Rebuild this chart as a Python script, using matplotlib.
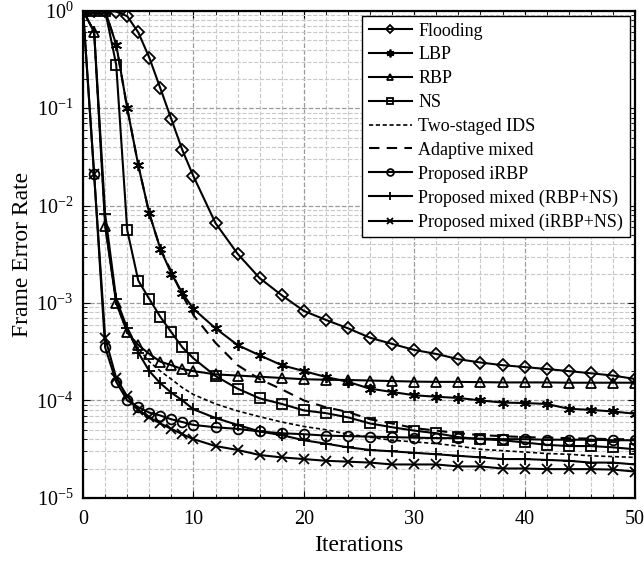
import numpy as np
import matplotlib
matplotlib.use('Agg')
import matplotlib.pyplot as plt
from matplotlib.ticker import LogLocator, MultipleLocator, NullFormatter

plt.rcParams['font.family'] = ['Liberation Serif', 'DejaVu Serif']
plt.rcParams['mathtext.fontset'] = 'stix'
plt.rcParams['axes.unicode_minus'] = False

# iteraciones con marcador: 0..10 y luego cada 2 hasta 50
iters = list(range(0, 11)) + list(range(12, 51, 2))

flooding = [1, 1, 1, 0.98, 0.88, 0.6, 0.33, 0.16, 0.077, 0.037, 0.02,
            6.6e-3, 3.2e-3, 1.8e-3, 1.2e-3, 8.3e-4, 6.7e-4, 5.5e-4, 4.4e-4, 3.8e-4, 3.3e-4,
            3.0e-4, 2.65e-4, 2.45e-4, 2.3e-4, 2.2e-4, 2.1e-4, 2.0e-4, 1.9e-4, 1.8e-4, 1.66e-4]
lbp = [1, 1, 1, 0.45, 0.10, 0.026, 8.3e-3, 3.6e-3, 2.0e-3, 1.26e-3, 8.7e-4,
       5.5e-4, 3.7e-4, 2.9e-4, 2.3e-4, 2.0e-4, 1.74e-4, 1.55e-4, 1.32e-4, 1.22e-4, 1.13e-4,
       1.09e-4, 1.06e-4, 1.0e-4, 9.5e-5, 9.4e-5, 9.2e-5, 8.2e-5, 8.0e-5, 7.7e-5, 7.3e-5]
rbp = [1, 0.61, 6.2e-3, 1.0e-3, 5.0e-4, 3.7e-4, 3.0e-4, 2.5e-4, 2.3e-4, 2.1e-4, 2.0e-4,
       1.85e-4, 1.8e-4, 1.75e-4, 1.7e-4, 1.65e-4, 1.63e-4, 1.62e-4, 1.6e-4, 1.58e-4, 1.56e-4,
       1.55e-4, 1.55e-4, 1.54e-4, 1.53e-4, 1.53e-4, 1.53e-4, 1.52e-4, 1.52e-4, 1.52e-4, 1.52e-4]
ns = [1, 1, 1, 0.28, 5.6e-3, 1.7e-3, 1.1e-3, 7.2e-4, 5.0e-4, 3.5e-4, 2.7e-4,
      1.78e-4, 1.32e-4, 1.05e-4, 9.2e-5, 7.9e-5, 7.4e-5, 6.7e-5, 5.8e-5, 5.3e-5, 4.9e-5,
      4.6e-5, 4.2e-5, 4.0e-5, 3.9e-5, 3.7e-5, 3.5e-5, 3.4e-5, 3.4e-5, 3.3e-5, 3.15e-5]
ids = [1, 0.61, 6.2e-3, 1.0e-3, 5.0e-4, 3.4e-4, 2.5e-4, 2.0e-4, 1.65e-4, 1.35e-4, 1.15e-4,
       9.2e-5, 7.8e-5, 6.8e-5, 6.0e-5, 5.4e-5, 5.0e-5, 4.5e-5, 4.2e-5, 3.9e-5, 3.75e-5,
       3.6e-5, 3.4e-5, 3.15e-5, 3.05e-5, 2.95e-5, 2.85e-5, 2.8e-5, 2.7e-5, 2.65e-5, 2.6e-5]
adaptive = [1, 1, 1, 0.45, 0.10, 0.026, 8.3e-3, 3.6e-3, 2.1e-3, 1.2e-3, 7.5e-4,
            3.9e-4, 2.3e-4, 1.65e-4, 1.3e-4, 1.0e-4, 8.5e-5, 7.6e-5, 6.4e-5, 5.8e-5, 5.2e-5,
            4.9e-5, 4.6e-5, 4.4e-5, 4.3e-5, 4.2e-5, 4.15e-5, 4.1e-5, 4.05e-5, 4.0e-5, 4.0e-5]
irbp = [1, 0.021, 3.5e-4, 1.55e-4, 1.0e-4, 8.5e-5, 7.5e-5, 7.0e-5, 6.4e-5, 6.0e-5, 5.6e-5,
        5.3e-5, 5.1e-5, 4.8e-5, 4.6e-5, 4.5e-5, 4.35e-5, 4.3e-5, 4.25e-5, 4.2e-5, 4.15e-5,
        4.1e-5, 4.1e-5, 4.05e-5, 4.0e-5, 4.0e-5, 3.95e-5, 3.95e-5, 3.95e-5, 3.9e-5, 3.9e-5]
mixed_rbp_ns = [1, 0.61, 8.2e-3, 1.1e-3, 5.5e-4, 3.1e-4, 2.0e-4, 1.5e-4, 1.2e-4, 1.0e-4, 8.1e-5,
                6.6e-5, 5.6e-5, 4.8e-5, 4.4e-5, 3.9e-5, 3.6e-5, 3.3e-5, 3.1e-5, 3.0e-5, 2.9e-5,
                2.8e-5, 2.7e-5, 2.6e-5, 2.5e-5, 2.5e-5, 2.45e-5, 2.4e-5, 2.3e-5, 2.3e-5, 2.2e-5]
mixed_irbp_ns = [1, 0.021, 4.4e-4, 1.7e-4, 1.1e-4, 8.0e-5, 6.7e-5, 5.8e-5, 5.1e-5, 4.5e-5, 4.0e-5,
                 3.4e-5, 3.1e-5, 2.75e-5, 2.6e-5, 2.5e-5, 2.4e-5, 2.35e-5, 2.3e-5, 2.2e-5, 2.2e-5,
                 2.2e-5, 2.1e-5, 2.1e-5, 2.0e-5, 2.0e-5, 1.97e-5, 1.97e-5, 1.97e-5, 1.95e-5, 1.86e-5]

fig = plt.figure(figsize=(6.44, 5.67), dpi=100)
ax = fig.add_axes([0.129, 0.122, 0.857, 0.859])

lw = 1.5
ms = 7
ax.plot(iters, flooding, 'k-', marker='D', ms=6, mfc='none', mew=1.3, lw=lw, label='Flooding')
ax.plot(iters, lbp, 'k-', marker=(6, 2, 0), ms=ms + 1, mew=1.3, lw=lw, label='LBP')
ax.plot(iters, rbp, 'k-', marker='^', ms=ms, mfc='none', mew=1.3, lw=lw, label='RBP')
ax.plot(iters, ns, 'k-', marker='s', ms=ms, mfc='none', mew=1.3, lw=lw, label='NS')
ax.plot(iters, ids, 'k', ls=(0, (2.5, 1.6)), lw=1.2, label='Two-staged IDS')
ax.plot(iters, adaptive, 'k', ls=(0, (5, 3.5)), lw=lw, label='Adaptive mixed')
ax.plot(iters, irbp, 'k-', marker='o', ms=ms, mfc='none', mew=1.3, lw=lw, label='Proposed iRBP')
ax.plot(iters, mixed_rbp_ns, 'k-', marker='+', ms=ms + 1, mew=1.3, lw=lw, label='Proposed mixed (RBP+NS)')
ax.plot(iters, mixed_irbp_ns, 'k-', marker='x', ms=ms, mew=1.3, lw=lw, label='Proposed mixed (iRBP+NS)')

ax.set_yscale('log')
ax.set_xlim(0, 50)
ax.set_ylim(1e-5, 1)
ax.xaxis.set_major_locator(MultipleLocator(10))
ax.xaxis.set_minor_locator(MultipleLocator(2))
ax.yaxis.set_major_locator(LogLocator(base=10, numticks=10))
ax.yaxis.set_minor_locator(LogLocator(base=10, subs=np.arange(2, 10), numticks=20))
ax.yaxis.set_minor_formatter(NullFormatter())

ax.grid(True, which='major', ls='--', color='#9a9a9a', lw=0.9)
ax.grid(True, which='minor', ls='--', color='#c8c8c8', lw=0.8)
ax.set_axisbelow(True)

ax.tick_params(which='both', direction='in', top=True, right=True, labelsize=14.5)
ax.tick_params(axis='x', which='major', pad=9)
ax.tick_params(axis='y', which='major', pad=7)
ax.tick_params(which='major', length=5)
ax.tick_params(which='minor', length=3)
for s in ax.spines.values():
    s.set_linewidth(1.6)

ax.set_xlabel('Iterations', fontsize=17, labelpad=4)
ax.set_ylabel('Frame Error Rate', fontsize=17, labelpad=2)

leg = ax.legend(loc='upper right', fontsize=13, frameon=True, fancybox=False,
                edgecolor='k', framealpha=1, markerscale=0.7, handlelength=2.4,
                handletextpad=0.35, labelspacing=0.38, borderpad=0.35,
                borderaxespad=0.3)
leg.get_frame().set_linewidth(1.0)

fig.savefig('out.png', dpi=100)
